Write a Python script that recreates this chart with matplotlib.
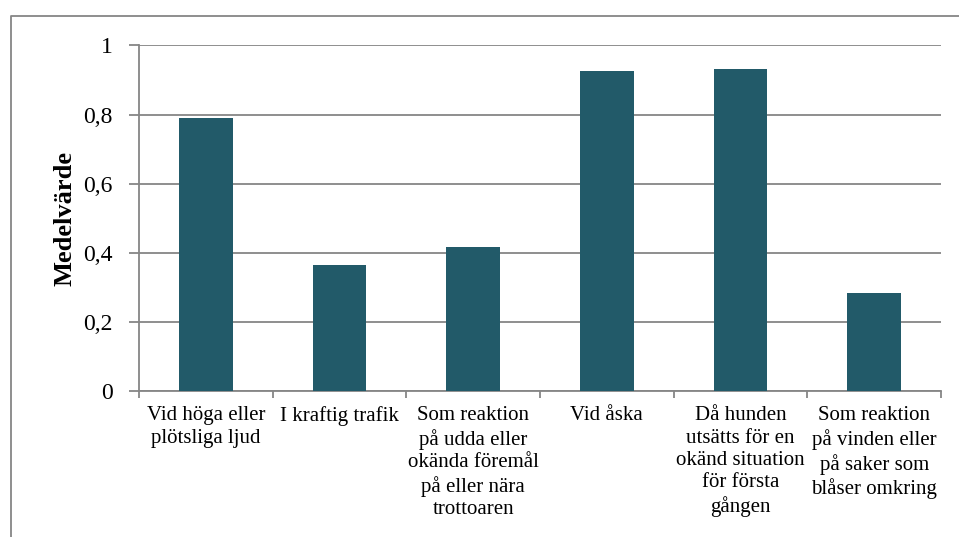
import matplotlib.pyplot as plt
from matplotlib.lines import Line2D
import numpy as np

# kategorier och medelvärden
categories = [
    "Vid höga eller\nplötsliga ljud",
    "I kraftig trafik",
    "Som reaktion\npå udda eller\nokända föremål\npå eller nära\ntrottoaren",
    "Vid åska",
    "Då hunden\nutsätts för en\nokänd situation\nför första\ngången",
    "Som reaktion\npå vinden eller\npå saker som\nblåser omkring",
]
values = [0.79, 0.365, 0.418, 0.927, 0.932, 0.285]
yticks = [0, 0.2, 0.4, 0.6, 0.8, 1]
ytick_labels = ["0", "0,2", "0,4", "0,6", "0,8", "1"]

plt.rcParams['font.family'] = ['Liberation Serif', 'DejaVu Serif']
grey = '#868686'

fig = plt.figure(figsize=(9.59, 5.37), dpi=100)
ax = fig.add_axes([139 / 959, 1 - 391 / 537, (941 - 139) / 959, (391 - 45.4) / 537])

x = np.arange(len(categories))
ax.bar(x, values, width=0.4, color='#225a69', zorder=3)

ax.set_xlim(-0.5, len(categories) - 0.5)
ax.set_ylim(0, 1)

ax.set_yticks(yticks)
ax.set_yticklabels(ytick_labels, fontsize=17)
ax.yaxis.grid(True, color=grey, linewidth=1.3, zorder=0)

ax.set_xticks(x)
ax.set_xticklabels(categories, fontsize=15, linespacing=1.24, va='top')
ax.set_xticks(np.arange(len(categories) + 1) - 0.5, minor=True)
ax.tick_params(axis='x', which='major', length=0, pad=11)
ax.tick_params(axis='x', which='minor', length=5, color=grey, width=1.3)
ax.tick_params(axis='y', length=7, color=grey, width=1.3, pad=12)

for s in ['top', 'right']:
    ax.spines[s].set_visible(False)
for s in ['left', 'bottom']:
    ax.spines[s].set_color(grey)
    ax.spines[s].set_linewidth(1.3)

ax.set_ylabel('Medelvärde', fontsize=19, fontweight='bold', labelpad=5)

# ramen runt diagrammet
fx = 11 / 959
fy = 1 - 16 / 537
fig.add_artist(Line2D([fx, fx, 1], [0, fy, fy], transform=fig.transFigure,
                      color=grey, linewidth=1.3))

fig.savefig('out.png', dpi=100)
